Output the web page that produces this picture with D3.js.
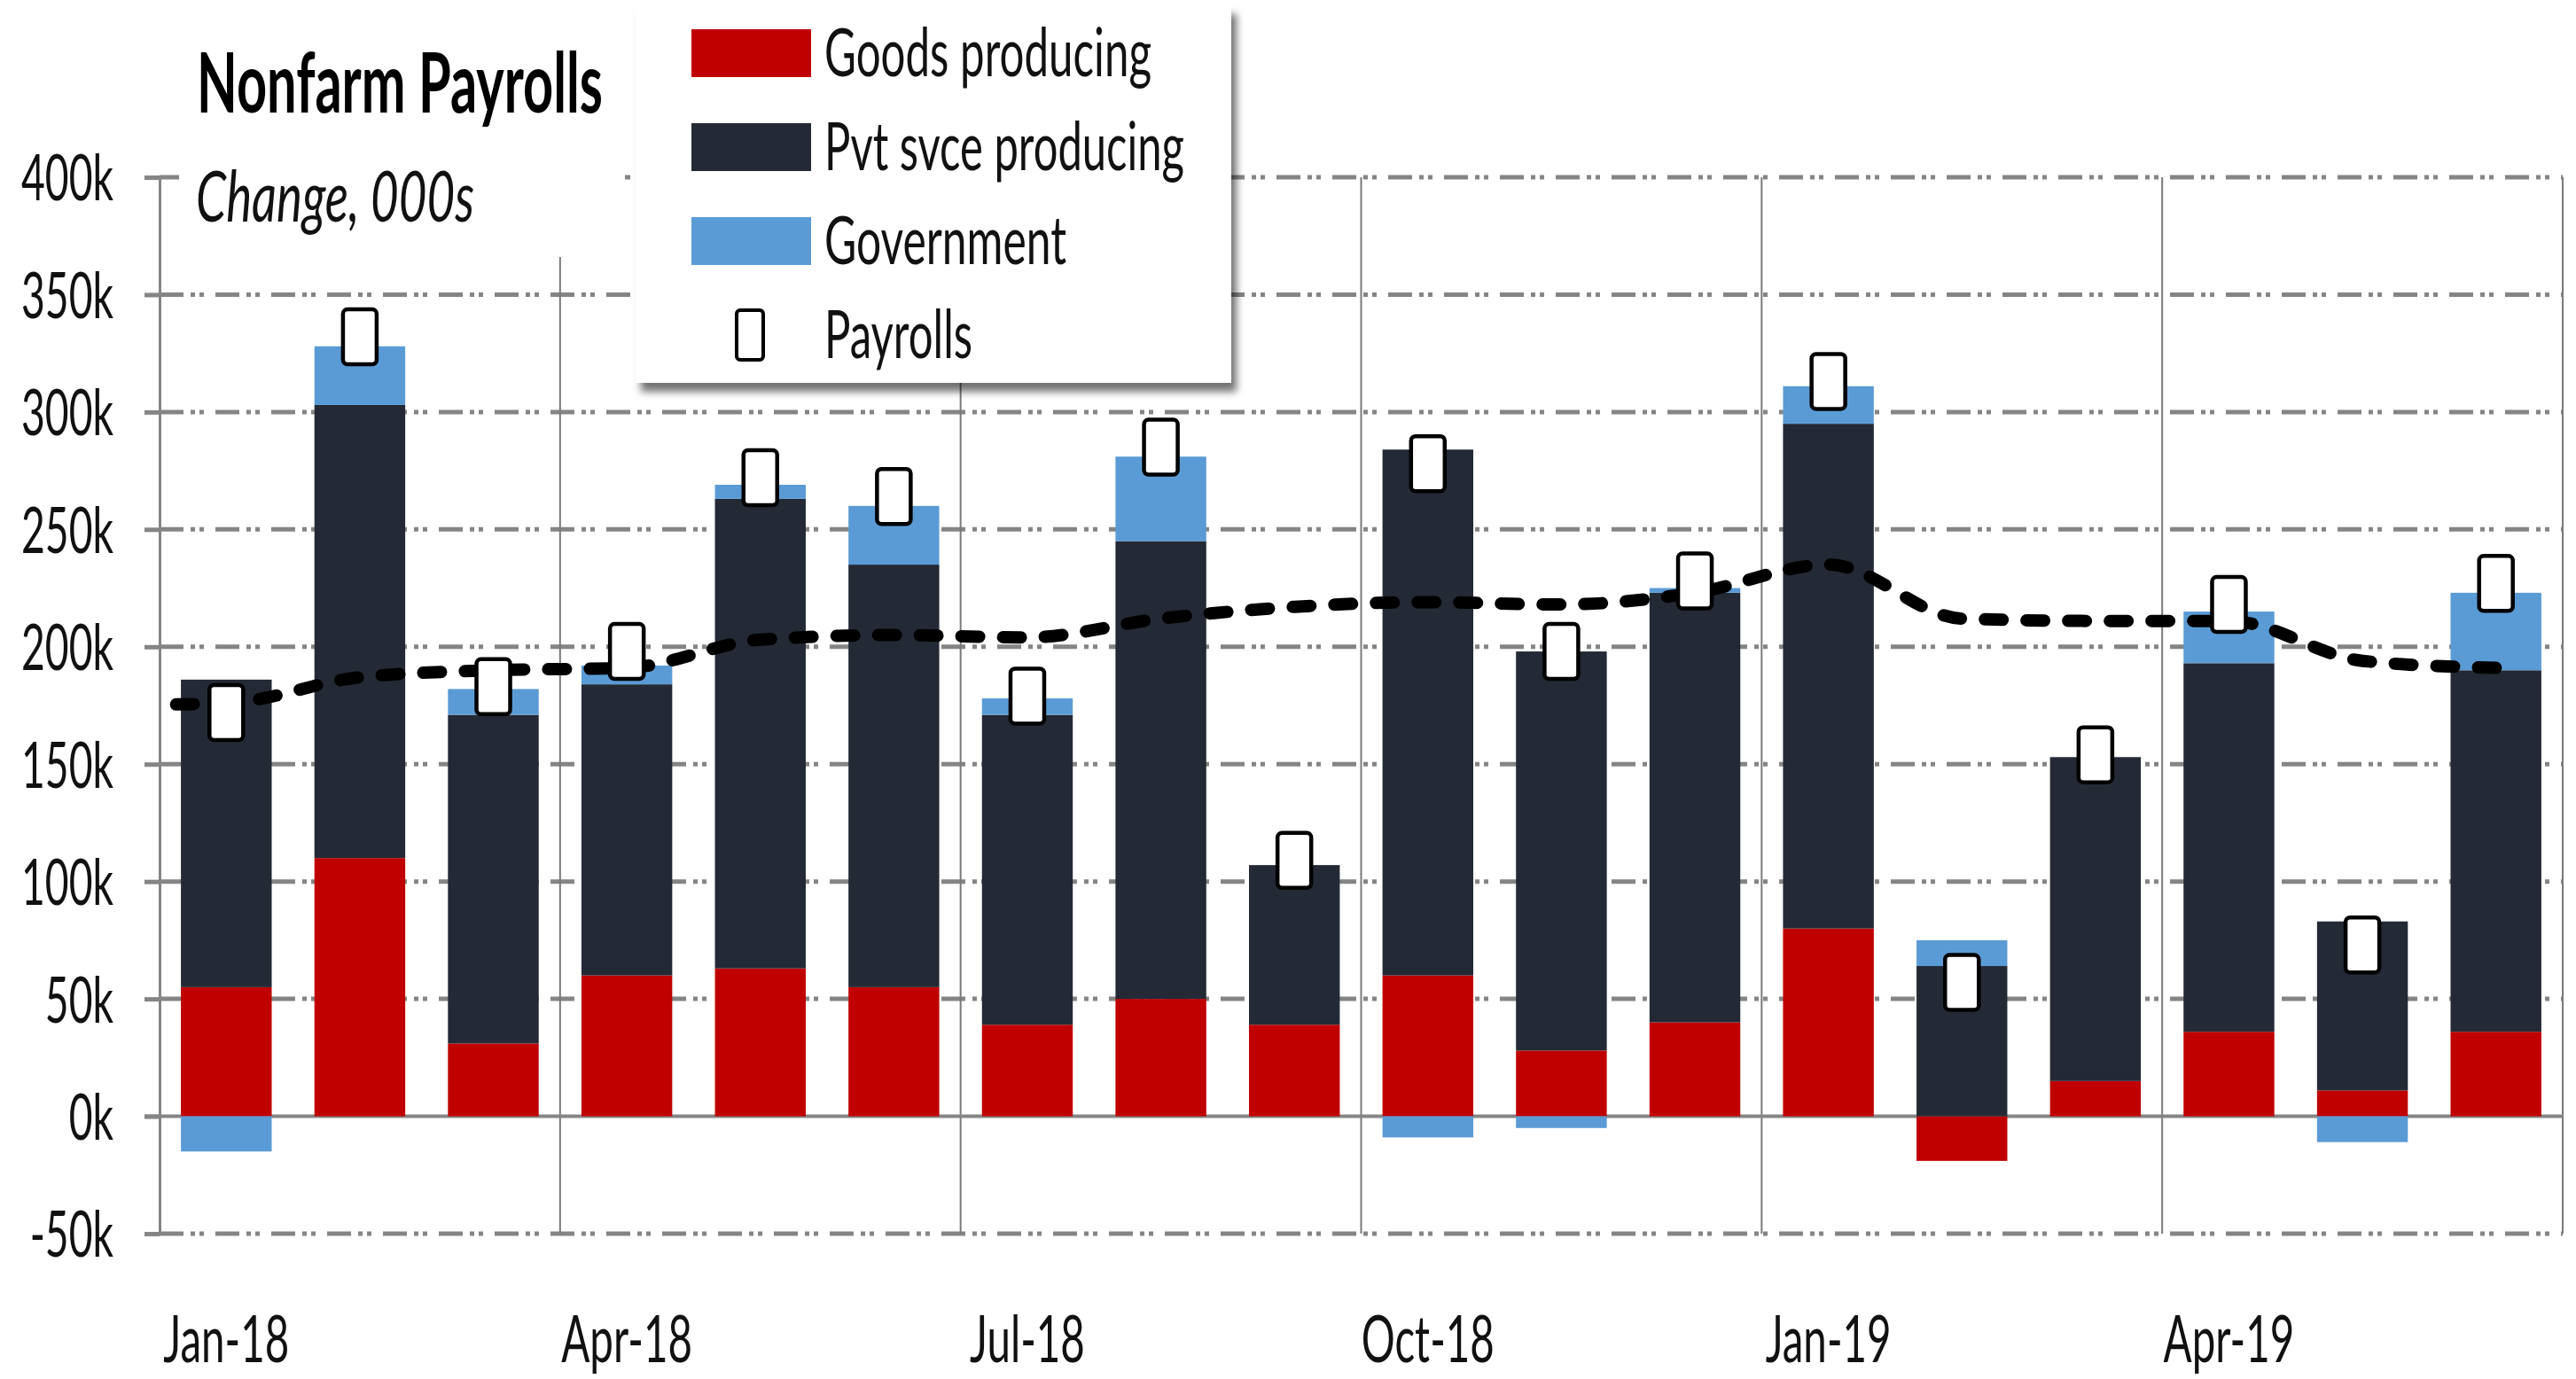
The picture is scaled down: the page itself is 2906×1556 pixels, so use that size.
<!DOCTYPE html>
<html>
<head>
<meta charset="utf-8">
<script src="https://cdn.jsdelivr.net/npm/d3@7"></script>
<style>
  body { margin: 0; background: #fff; }
  svg { display: block; }
  text { font-family: Lato, "Open Sans", sans-serif; fill: #111; }
</style>
</head>
<body>
<svg id="chart" width="2906" height="1556"></svg>
<script>
// ---------------- DATA (thousands) ----------------
const months = ["Jan-18","Feb-18","Mar-18","Apr-18","May-18","Jun-18","Jul-18","Aug-18","Sep-18",
                "Oct-18","Nov-18","Dec-18","Jan-19","Feb-19","Mar-19","Apr-19","May-19","Jun-19"];
const goods      = [55, 110, 31, 60, 63, 55, 39, 50, 39, 60, 28, 40, 80, -19, 15, 36, 11, 36];
const services   = [131, 193, 140, 124, 200, 180, 132, 195, 68, 224, 170, 183, 215, 64, 138, 157, 72, 154];
const government = [-15, 25, 11, 8, 6, 25, 7, 36, 0, -9, -5, 2, 16, 11, 0, 22, -11, 33];
const payrolls   = [172, 332, 183, 198, 272, 264, 179, 285, 109, 278, 198, 228, 313, 57, 154, 218, 73, 227];
const trendPrior = 175;   // value of the dashed trend just before Jan-18 (runs off the left edge)
const trend      = [176, 187, 190, 191, 203, 205, 204, 212, 217, 219, 218, 223, 235, 212, 211, 211, 194, 191];
const yTicks     = [-50, 0, 50, 100, 150, 200, 250, 300, 350, 400];
const xTickLabels = ["Jan-18","Apr-18","Jul-18","Oct-18","Jan-19","Apr-19"];
const seriesNames = ["Goods producing","Pvt svce producing","Government"];
const markerName  = "Payrolls";
const titleText   = "Nonfarm Payrolls";
const subtitleText = "Change, 000s";

// ---------------- STYLE ----------------
const colors = ["#C00000", "#232A35", "#5B9BD5"];
const gridColor = "#858585";

const svg = d3.select("#chart");
const defs = svg.append("defs");
const shadow = defs.append("filter").attr("id","shadow")
  .attr("x","-5%").attr("y","-5%").attr("width","115%").attr("height","120%");
shadow.append("feDropShadow").attr("dx",6).attr("dy",10).attr("stdDeviation",4)
  .attr("flood-color","#000").attr("flood-opacity",0.55);
defs.append("clipPath").attr("id","plotclip").append("rect")
  .attr("x",180).attr("y",0).attr("width",2726).attr("height",1556);

const x = d3.scaleBand().domain(months).range([180, 2891]).paddingInner(0.32).paddingOuter(0.16);
const y = d3.scaleLinear().domain([-50, 400]).range([1392, 200]);
const step = x.step(), bw = x.bandwidth();
const cx = i => x(months[0]) + bw / 2 + i * step;

function squeeze(sel, factor) {
  sel.each(function () {
    const L = this.getComputedTextLength();
    d3.select(this).attr("textLength", L * factor).attr("lengthAdjust", "spacingAndGlyphs");
  });
}
function fitTo(sel, width) {
  sel.attr("textLength", width).attr("lengthAdjust", "spacingAndGlyphs");
}

// ---------------- GRID ----------------
const grid = svg.append("g");
grid.selectAll("line.h").data(yTicks.filter(t => t !== 0)).join("line")
  .attr("x1", 180).attr("x2", 2891)
  .attr("y1", d => y(d)).attr("y2", d => y(d))
  .attr("stroke", gridColor).attr("stroke-width", 5)
  .attr("stroke-dasharray", "27,8,5,5,5,13");

const boundaries = [3, 6, 9, 12, 15].map(i => x(months[i]) - step * x.paddingInner() / 2).concat([2891]);
grid.selectAll("line.v").data(boundaries).join("line")
  .attr("x1", d => d).attr("x2", d => d)
  .attr("y1", y(400)).attr("y2", y(-50))
  .attr("stroke", "#7a7a7a").attr("stroke-width", 2);

// zero line
grid.append("line").attr("x1", 163).attr("x2", 2891).attr("y1", y(0)).attr("y2", y(0))
  .attr("stroke", gridColor).attr("stroke-width", 4);

// ---------------- TITLE BOX (white, hides grid behind it) ----------------
svg.append("rect").attr("x", 202).attr("y", 0).attr("width", 503).attr("height", 290).attr("fill", "#fff");
svg.append("text").attr("x", 222).attr("y", 127).attr("font-size", 94).attr("font-weight", 700)
  .style("fill", "#000").text(titleText).call(fitTo, 458);
svg.append("text").attr("x", 221).attr("y", 250).attr("font-size", 80).attr("font-style", "italic")
  .style("fill", "#111").text(subtitleText).call(fitTo, 314);

// ---------------- AXES ----------------
const yAxis = svg.append("g").attr("transform", "translate(180,0)")
  .call(d3.axisLeft(y).tickValues(yTicks).tickFormat(d => d + "k").tickSize(17).tickSizeOuter(0).tickPadding(35));
yAxis.select(".domain").attr("stroke", gridColor).attr("stroke-width", 3);
yAxis.selectAll(".tick line").attr("stroke", gridColor).attr("stroke-width", 5);
yAxis.selectAll(".tick text").attr("font-size", 72).attr("font-family", "Lato").style("fill", "#111").attr("dy", "0.36em");
{
  const ref = yAxis.selectAll(".tick text").filter(d => d === 400).node().getComputedTextLength();
  squeeze(yAxis.selectAll(".tick text"), 104 / ref);
}

const xAxis = svg.append("g").attr("transform", `translate(0,${y(-50)})`)
  .call(d3.axisBottom(x).tickValues(xTickLabels).tickSize(0).tickPadding(92));
xAxis.select(".domain").remove();
xAxis.selectAll(".tick text").attr("font-size", 74).attr("font-family", "Lato").style("fill", "#111");
{
  const ref = xAxis.selectAll(".tick text").filter(d => d === "Jan-18").node().getComputedTextLength();
  squeeze(xAxis.selectAll(".tick text"), 142 / ref);
}

// ---------------- BARS ----------------
const rows = months.map((m, i) => ({ month: m, goods: goods[i], services: services[i], government: government[i] }));
const stacked = d3.stack().keys(["goods", "services", "government"]).offset(d3.stackOffsetDiverging)(rows);
svg.append("g").selectAll("g").data(stacked).join("g")
  .attr("fill", (d, i) => colors[i])
  .selectAll("rect").data(d => d).join("rect")
  .attr("x", d => x(d.data.month)).attr("width", bw)
  .attr("y", d => y(Math.max(d[0], d[1])))
  .attr("height", d => Math.abs(y(d[0]) - y(d[1])));

// ---------------- TREND LINE ----------------
const trendPts = [{ i: -1, v: trendPrior }].concat(trend.map((v, i) => ({ i, v })));
svg.append("path").datum(trendPts)
  .attr("clip-path", "url(#plotclip)")
  .attr("d", d3.line().x(d => cx(d.i)).y(d => y(d.v)).curve(d3.curveMonotoneX))
  .attr("fill", "none").attr("stroke", "#000").attr("stroke-width", 14)
  .attr("stroke-linecap", "round").attr("stroke-dasharray", "20,27");

// ---------------- PAYROLL MARKERS ----------------
const mw = 38, mh = 62;
svg.append("g").selectAll("rect").data(payrolls).join("rect")
  .attr("x", (d, i) => cx(i) - mw / 2).attr("y", d => y(d) - mh / 2)
  .attr("width", mw).attr("height", mh).attr("rx", 5)
  .attr("fill", "#fff").attr("stroke", "#000").attr("stroke-width", 4.5);

// ---------------- LEGEND ----------------
const legend = svg.append("g");
legend.append("rect").attr("x", 717).attr("y", 6).attr("width", 672).attr("height", 426)
  .attr("fill", "#fff").attr("filter", "url(#shadow)");
const rowY = i => 60 + i * 106;
const legendWidths = [369, 406, 273];
seriesNames.forEach((name, i) => {
  legend.append("rect").attr("x", 780).attr("y", rowY(i) - 27).attr("width", 135).attr("height", 54)
    .attr("fill", colors[i]);
  legend.append("text").attr("x", 930).attr("y", rowY(i) + 26).attr("font-size", 75)
    .text(name).call(fitTo, legendWidths[i]);
});
legend.append("rect").attr("x", 846 - 15).attr("y", rowY(3) - 28).attr("width", 30).attr("height", 56)
  .attr("rx", 4).attr("fill", "#fff").attr("stroke", "#000").attr("stroke-width", 4);
legend.append("text").attr("x", 930).attr("y", rowY(3) + 26).attr("font-size", 75)
  .text(markerName).call(fitTo, 167);
</script>
</body>
</html>
